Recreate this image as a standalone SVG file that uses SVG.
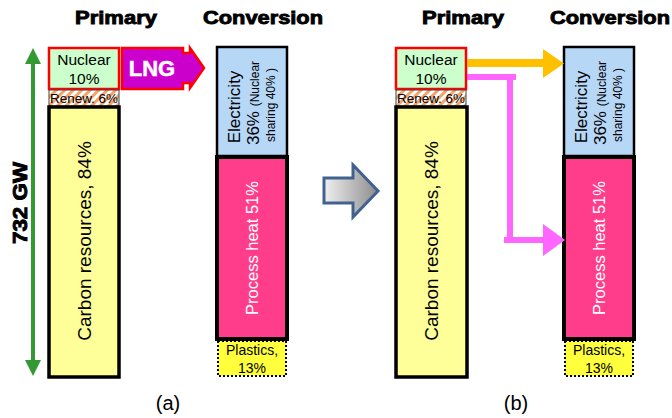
<svg xmlns="http://www.w3.org/2000/svg" width="672" height="418" viewBox="0 0 672 418">
<defs>
<pattern id="hatch" patternUnits="userSpaceOnUse" width="6" height="6" patternTransform="rotate(45)">
<rect width="6" height="6" fill="#ffffff"/>
<rect width="3" height="6" fill="#f4a46a"/>
</pattern>
<linearGradient id="grayg" x1="0" y1="0" x2="1" y2="0">
<stop offset="0" stop-color="#f0f0f0"/>
<stop offset="1" stop-color="#8c8c8c"/>
</linearGradient>
</defs>
<style>
.title{font-family:"Liberation Sans",Arial,sans-serif;font-weight:bold;font-size:19px;fill:#000;stroke:#000;stroke-width:0.9}
.t{font-family:"Liberation Sans",Arial,sans-serif;fill:#000}
.nuc{fill:#ccffcc;stroke:#ff0000;stroke-width:2.5}
.ren{fill:url(#hatch);stroke:#444;stroke-width:1}
.carb{fill:#ffff99;stroke:#000;stroke-width:3.5}
.elec{fill:#b7d7f7;stroke:#000;stroke-width:2.5}
.heat{fill:#ff3d8b;stroke:#000;stroke-width:4}
.plas{fill:#ffff3c;stroke:#000;stroke-width:2;stroke-dasharray:2 2}
</style>

<text class="title" x="116" y="24" text-anchor="middle" textLength="82" lengthAdjust="spacingAndGlyphs">Primary</text>
<text class="title" x="263" y="24" text-anchor="middle" textLength="120" lengthAdjust="spacingAndGlyphs">Conversion</text>
<text class="title" x="463" y="24" text-anchor="middle" textLength="82" lengthAdjust="spacingAndGlyphs">Primary</text>
<text class="title" x="610" y="24" text-anchor="middle" textLength="120" lengthAdjust="spacingAndGlyphs">Conversion</text>

<g id="scale-a">
<line x1="33" y1="62" x2="33" y2="362" stroke="#339933" stroke-width="4"/>
<path d="M33,48 L41,64 L25,64 Z" fill="#339933"/>
<path d="M33,376 L41,360 L25,360 Z" fill="#339933"/>
<text class="title" transform="translate(27,203) rotate(-90)" text-anchor="middle" textLength="82" lengthAdjust="spacingAndGlyphs" style="font-size:20px">732 GW</text>
</g>

<g id="nuclear-a">
<rect class="nuc" x="49" y="48" width="70" height="41"/>
<text class="t" x="84" y="65" font-size="15.5" text-anchor="middle">Nuclear</text>
<text class="t" x="84" y="84" font-size="15.5" text-anchor="middle">10%</text>
</g>
<g id="renew-a">
<rect class="ren" x="49" y="90" width="70" height="16"/>
<text class="t" x="84" y="103" font-size="13.5" text-anchor="middle" textLength="68" lengthAdjust="spacingAndGlyphs">Renew. 6%</text>
</g>
<g id="carbon-a">
<rect class="carb" x="49" y="107" width="70" height="270"/>
<text class="t" transform="translate(91,241) rotate(-90)" font-size="19" text-anchor="middle">Carbon resources, 84%</text>
</g>
<g id="electricity-a">
<rect class="elec" x="217" y="47" width="70" height="109"/>
<text class="t" transform="translate(240,107) rotate(-90)" font-size="17" text-anchor="middle">Electricity</text>
<text class="t" transform="translate(259,103) rotate(-90)" text-anchor="middle"><tspan font-size="17">36% </tspan><tspan font-size="12">(Nuclear</tspan></text>
<text class="t" transform="translate(275,105) rotate(-90)" font-size="12" text-anchor="middle">sharing 40% )</text>
</g>
<g id="heat-a">
<rect class="heat" x="217" y="157" width="70" height="182"/>
<text class="t" transform="translate(258,248) rotate(-90)" font-size="16.5" text-anchor="middle" style="fill:#ffffff">Process heat 51%</text>
</g>
<g id="plastics-a">
<rect class="plas" x="218" y="341" width="68" height="35"/>
<text class="t" x="252" y="355" font-size="14" text-anchor="middle">Plastics,</text>
<text class="t" x="252" y="373" font-size="14" text-anchor="middle">13%</text>
</g>
<text class="t" x="168" y="410" font-size="20" text-anchor="middle">(a)</text>

<g id="nuclear-b">
<rect class="nuc" x="396" y="48" width="70" height="41"/>
<text class="t" x="431" y="65" font-size="15.5" text-anchor="middle">Nuclear</text>
<text class="t" x="431" y="84" font-size="15.5" text-anchor="middle">10%</text>
</g>
<g id="renew-b">
<rect class="ren" x="396" y="90" width="70" height="16"/>
<text class="t" x="431" y="103" font-size="13.5" text-anchor="middle" textLength="68" lengthAdjust="spacingAndGlyphs">Renew. 6%</text>
</g>
<g id="carbon-b">
<rect class="carb" x="396" y="107" width="71" height="270"/>
<text class="t" transform="translate(438,241) rotate(-90)" font-size="19" text-anchor="middle">Carbon resources, 84%</text>
</g>
<g id="electricity-b">
<rect class="elec" x="564" y="47" width="70" height="109"/>
<text class="t" transform="translate(587,107) rotate(-90)" font-size="17" text-anchor="middle">Electricity</text>
<text class="t" transform="translate(606,103) rotate(-90)" text-anchor="middle"><tspan font-size="17">36% </tspan><tspan font-size="12">(Nuclear</tspan></text>
<text class="t" transform="translate(622,105) rotate(-90)" font-size="12" text-anchor="middle">sharing 40% )</text>
</g>
<g id="heat-b">
<rect class="heat" x="564" y="157" width="70" height="182"/>
<text class="t" transform="translate(605,248) rotate(-90)" font-size="16.5" text-anchor="middle" style="fill:#ffffff">Process heat 51%</text>
</g>
<g id="plastics-b">
<rect class="plas" x="565" y="341" width="68" height="35"/>
<text class="t" x="599" y="355" font-size="14" text-anchor="middle">Plastics,</text>
<text class="t" x="599" y="373" font-size="14" text-anchor="middle">13%</text>
</g>
<text class="t" x="516" y="410" font-size="20" text-anchor="middle">(b)</text>

<g id="connectors">
<g id="lng">
<polygon points="122,48 183,48 183,53 190,53 190,48 204,68 190,88 190,83 183,83 183,89 122,89" fill="#cc00cc" stroke="#ff0000" stroke-width="2.5" stroke-linejoin="miter"/>
<text x="152" y="76" font-family="'Liberation Sans',Arial,sans-serif" font-weight="bold" font-size="22" fill="#ffffff" stroke="#ffffff" stroke-width="0.5" text-anchor="middle">LNG</text>
</g>
<polygon points="324,178 353,178 353,165 378,191 353,217 353,203 324,203" fill="url(#grayg)" stroke="#41628f" stroke-width="3"/>
<line x1="467" y1="63" x2="545" y2="63" stroke="#ffc000" stroke-width="8"/>
<polygon points="543,49 564,63.5 543,78" fill="#ffc000"/>
<line x1="467" y1="77" x2="516" y2="77" stroke="#ff66ff" stroke-width="6"/>
<line x1="510" y1="74" x2="510" y2="243" stroke="#ff66ff" stroke-width="6"/>
<line x1="504" y1="240" x2="545" y2="240" stroke="#ff66ff" stroke-width="6"/>
<polygon points="543,224 565,240 543,256" fill="#ff66ff"/>
</g>
</svg>
